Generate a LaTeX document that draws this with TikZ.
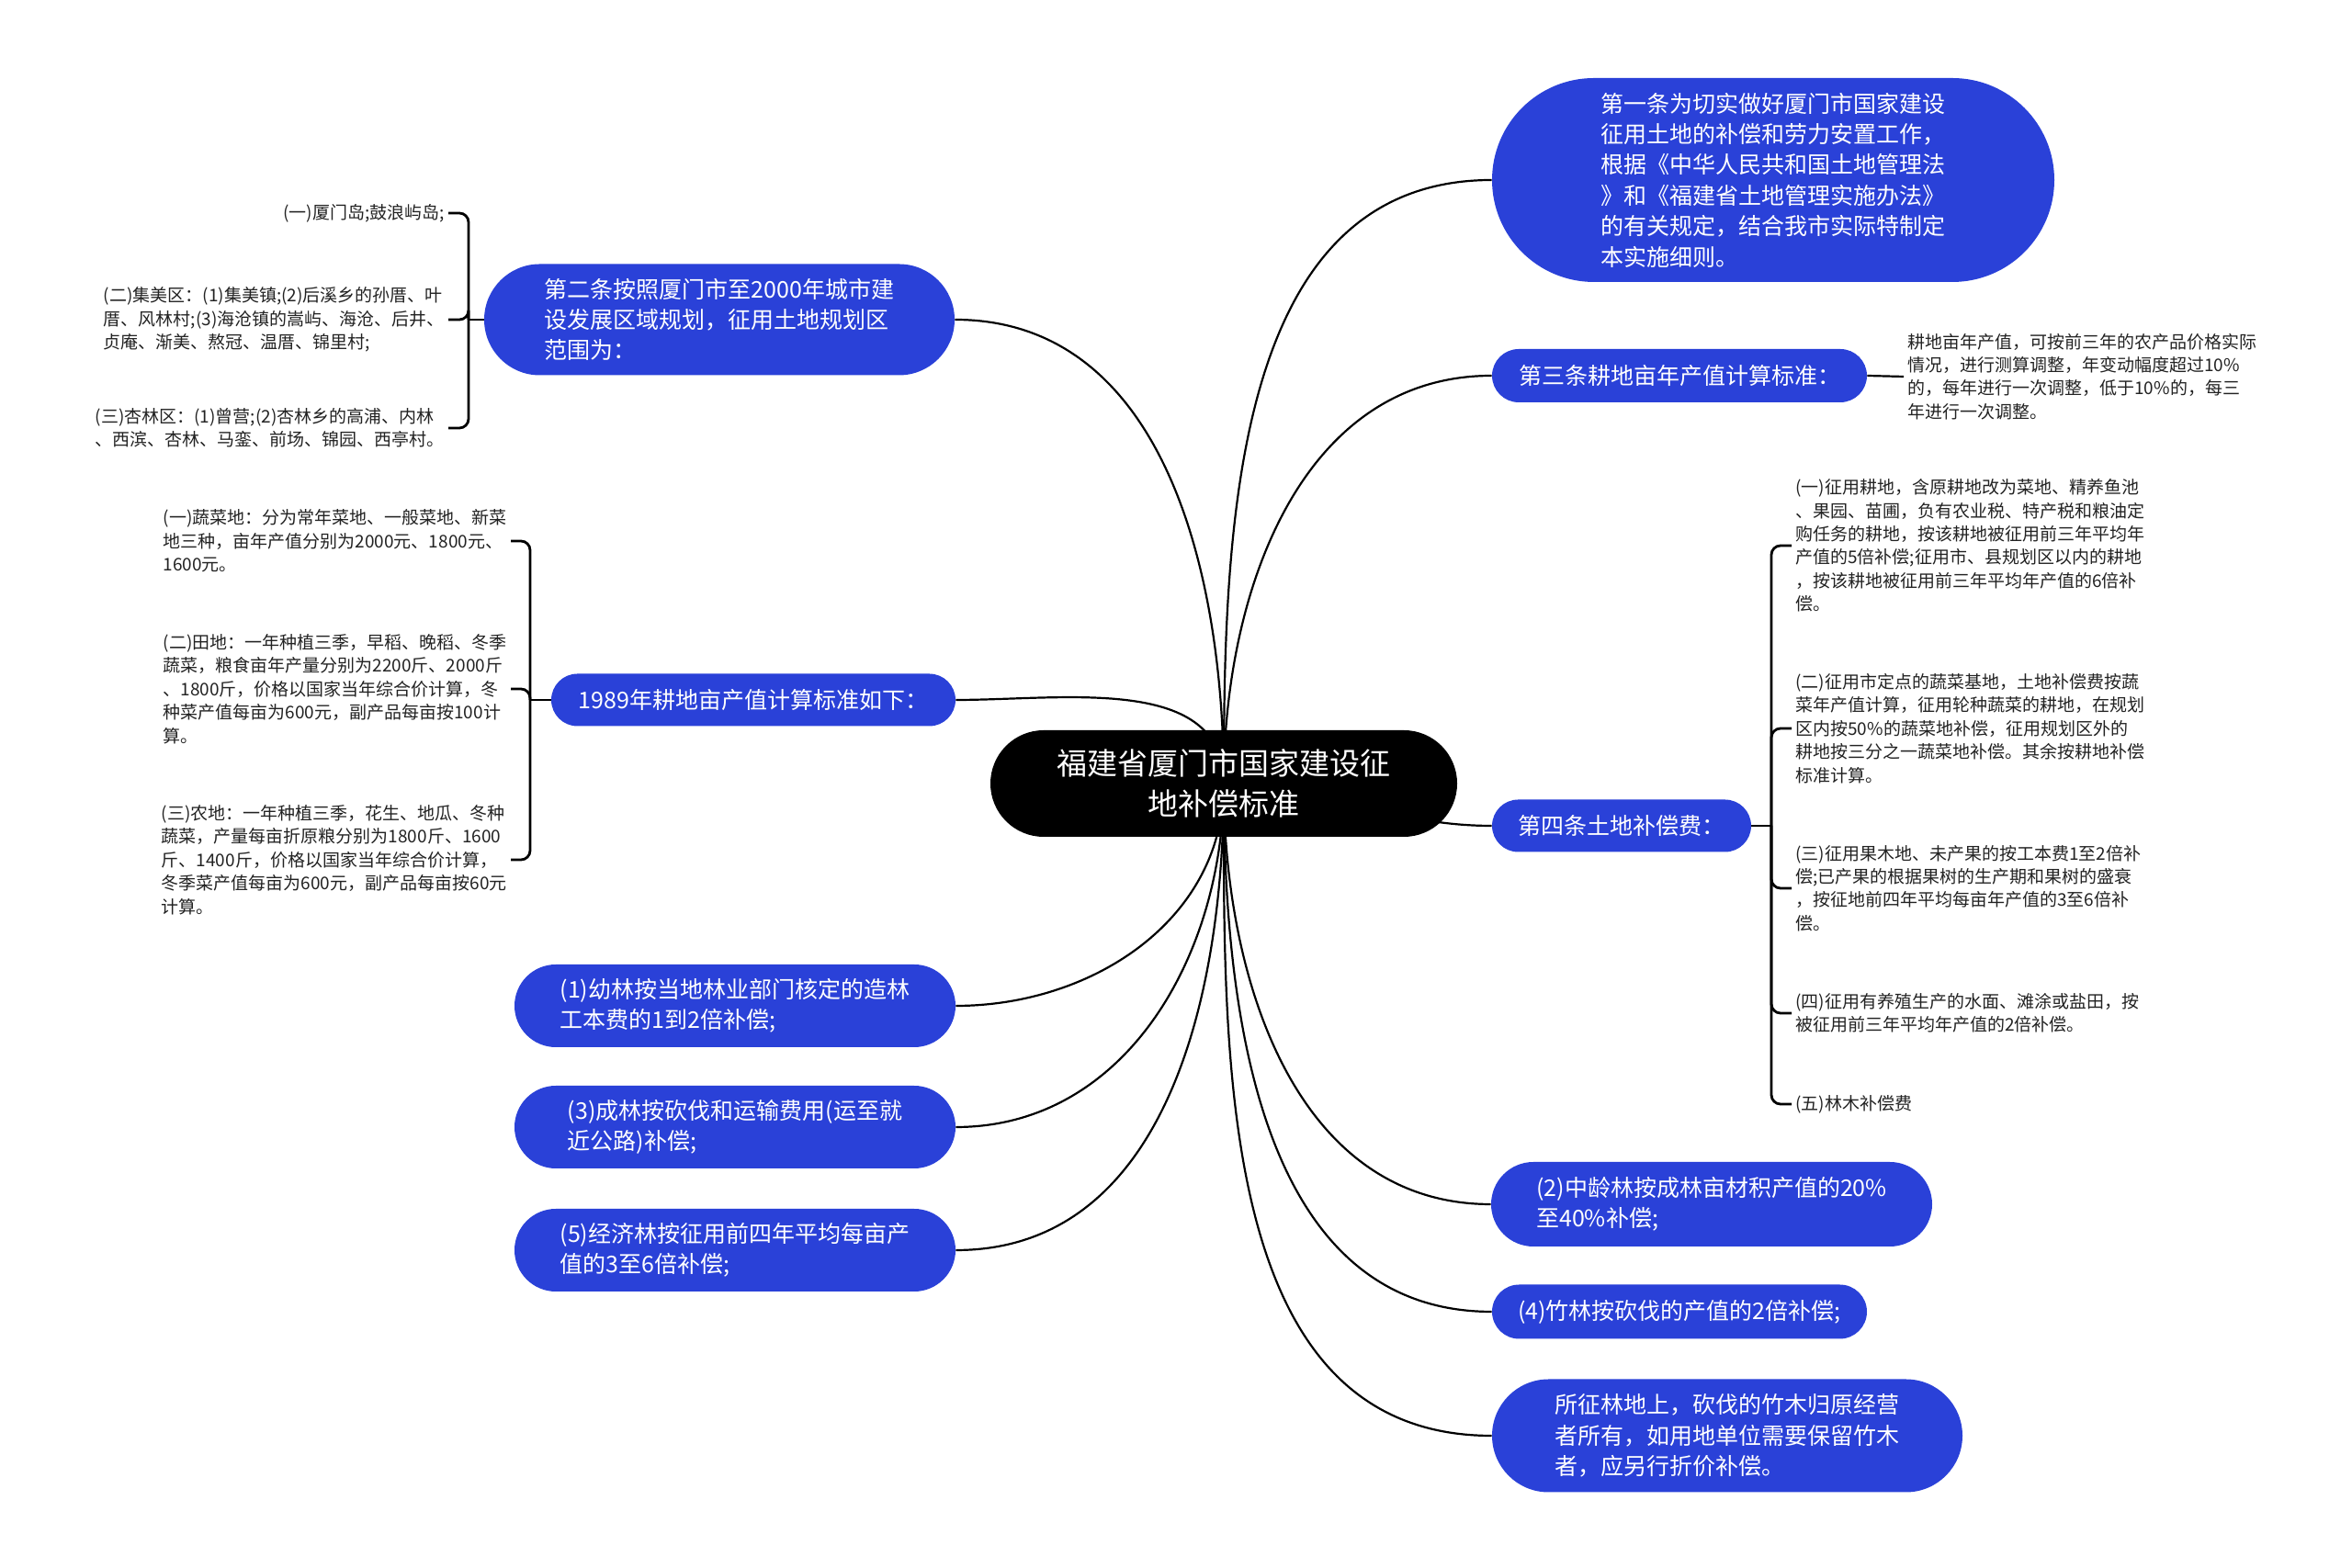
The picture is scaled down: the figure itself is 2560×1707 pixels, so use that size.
\documentclass[tikz,border=0pt]{standalone}
\usepackage{fontspec}
\setmainfont{Noto Sans CJK SC}
\usepackage{tikz}
\usetikzlibrary{positioning, shapes.misc, backgrounds, calc}
\definecolor{mapblue}{HTML}{2A41D8}
\definecolor{leafgray}{HTML}{222222}

\begin{document}
\begin{tikzpicture}[x=0.5pt, y=0.5pt,
    topic/.style={rounded rectangle, fill=mapblue, text=white, align=left, inner sep=0pt, font=\fontsize{12.5pt}{16.7pt}\selectfont},
    leaf/.style={align=left, text=leafgray, inner sep=2pt, font=\fontsize{9.5pt}{12.7pt}\selectfont},
    link/.style={line width=1.1pt},
    brace/.style={line width=1.4pt, rounded corners=5pt}]
    \useasboundingbox (0,0) rectangle (2560,1707);

    \node[rounded rectangle, fill=black, text=white, align=center, inner sep=0pt, minimum width=254pt, minimum height=58pt, font=\fontsize{16.5pt}{22pt}\selectfont] (root) at (1332,854) {福建省厦门市国家建设征\\地补偿标准};

    % right side
    \node[topic, minimum width=306pt, minimum height=111pt] (sec1) at (1930,1511) {第一条为切实做好厦门市国家建设\\征用土地的补偿和劳力安置工作，\\根据《中华人民共和国土地管理法\\》和《福建省土地管理实施办法》\\的有关规定，结合我市实际特制定\\本实施细则。};
    \node[topic, minimum width=204pt, minimum height=29pt] (sec3) at (1828,1298) {第三条耕地亩年产值计算标准：};
    \node[topic, minimum width=141pt, minimum height=28.5pt] (sec4) at (1765,808) {第四条土地补偿费：};
    \node[topic, minimum width=240pt, minimum height=46pt] (f2) at (1863,396) {(2)中龄林按成林亩材积产值的20\%\\至40\%补偿;};
    \node[topic, minimum width=204pt, minimum height=29.5pt] (f4) at (1828,279) {(4)竹林按砍伐的产值的2倍补偿;};
    \node[topic, minimum width=256pt, minimum height=61.5pt] (fbam) at (1880,144) {所征林地上，砍伐的竹木归原经营\\者所有，如用地单位需要保留竹木\\者，应另行折价补偿。};

    % left side
    \node[topic, minimum width=256pt, minimum height=60.5pt] (sec2) at (783,1359) {第二条按照厦门市至2000年城市建\\设发展区域规划，征用土地规划区\\范围为：};
    \node[topic, minimum width=220pt, minimum height=28.5pt] (std89) at (820,945) {1989年耕地亩产值计算标准如下：};
    \node[topic, minimum width=240pt, minimum height=45pt] (f1) at (800,612) {(1)幼林按当地林业部门核定的造林\\工本费的1到2倍补偿;};
    \node[topic, minimum width=240pt, minimum height=45pt] (f3) at (800,480) {(3)成林按砍伐和运输费用(运至就\\近公路)补偿;};
    \node[topic, minimum width=240pt, minimum height=45pt] (f5) at (800,346) {(5)经济林按征用前四年平均每亩产\\值的3至6倍补偿;};

    % leaves of sec3
    \node[leaf, anchor=west] (adj) at (2072,1297) {耕地亩年产值，可按前三年的农产品价格实际\\情况，进行测算调整，年变动幅度超过10\%\\的，每年进行一次调整，低于10\%的，每三\\年进行一次调整。};
    \draw[link] (sec3.east) -- (adj.west);

    % leaves of sec4
    \node[leaf, anchor=west] (c1) at (1950,1113) {(一)征用耕地，含原耕地改为菜地、精养鱼池\\、果园、苗圃，负有农业税、特产税和粮油定\\购任务的耕地，按该耕地被征用前三年平均年\\产值的5倍补偿;征用市、县规划区以内的耕地\\，按该耕地被征用前三年平均年产值的6倍补\\偿。};
    \node[leaf, anchor=west] (c2) at (1950,914) {(二)征用市定点的蔬菜基地，土地补偿费按蔬\\菜年产值计算，征用轮种蔬菜的耕地，在规划\\区内按50\%的蔬菜地补偿，征用规划区外的\\耕地按三分之一蔬菜地补偿。其余按耕地补偿\\标准计算。};
    \node[leaf, anchor=west] (c3) at (1950,740) {(三)征用果木地、未产果的按工本费1至2倍补\\偿;已产果的根据果树的生产期和果树的盛衰\\，按征地前四年平均每亩年产值的3至6倍补\\偿。};
    \node[leaf, anchor=west] (c4) at (1950,604) {(四)征用有养殖生产的水面、滩涂或盐田，按\\被征用前三年平均年产值的2倍补偿。};
    \node[leaf, anchor=west] (c5) at (1950,505) {(五)林木补偿费};
    \coordinate (j4) at (1928,808);
    \draw[link] (sec4.east) -- (j4);
    \foreach \c in {c1,c2,c3,c4,c5}
        \draw[brace] (j4) |- (\c.west);

    % leaves of sec2
    \node[leaf, anchor=east] (z1) at (488,1475) {(一)厦门岛;鼓浪屿岛;};
    \node[leaf, anchor=east] (z2) at (488,1359) {(二)集美区：(1)集美镇;(2)后溪乡的孙厝、叶\\厝、风林村;(3)海沧镇的嵩屿、海沧、后井、\\贞庵、渐美、熬冠、温厝、锦里村;};
    \node[leaf, anchor=east] (z3) at (488,1241) {(三)杏林区：(1)曾营;(2)杏林乡的高浦、内林\\、西滨、杏林、马銮、前场、锦园、西亭村。};
    \coordinate (j2) at (510,1359);
    \draw[link] (sec2.west) -- (j2);
    \foreach \z in {z1,z2,z3}
        \draw[brace] (j2) |- (\z.east);

    % leaves of std89
    \node[leaf, anchor=east] (s1) at (556,1118) {(一)蔬菜地：分为常年菜地、一般菜地、新菜\\地三种，亩年产值分别为2000元、1800元、\\1600元。};
    \node[leaf, anchor=east] (s2) at (556,957) {(二)田地：一年种植三季，早稻、晚稻、冬季\\蔬菜，粮食亩年产量分别为2200斤、2000斤\\、1800斤，价格以国家当年综合价计算，冬\\种菜产值每亩为600元，副产品每亩按100计\\算。};
    \node[leaf, anchor=east] (s3) at (556,771) {(三)农地：一年种植三季，花生、地瓜、冬种\\蔬菜，产量每亩折原粮分别为1800斤、1600\\斤、1400斤，价格以国家当年综合价计算，\\冬季菜产值每亩为600元，副产品每亩按60元\\计算。};
    \coordinate (j89) at (577,945);
    \draw[link] (std89.west) -- (j89);
    \foreach \s in {s1,s2,s3}
        \draw[brace] (j89) |- (\s.east);

    % branches from the root
    \begin{scope}[on background layer]
        \draw[link] (root.center) to[out=90, in=180] (sec1.west);
        \draw[link] (root.center) to[out=90, in=180] (sec3.west);
        \draw[link] (root.center) to[out=0, in=180] (sec4.west);
        \draw[link] (root.center) to[out=-90, in=180] (f2.west);
        \draw[link] (root.center) to[out=-90, in=180] (f4.west);
        \draw[link] (root.center) to[out=-90, in=180] (fbam.west);
        \draw[link] (root.center) to[out=90, in=0] (sec2.east);
        \draw[link] (root.center) to[out=90, in=0] (std89.east);
        \draw[link] (root.center) to[out=-90, in=0] (f1.east);
        \draw[link] (root.center) to[out=-90, in=0] (f3.east);
        \draw[link] (root.center) to[out=-90, in=0] (f5.east);
    \end{scope}
\end{tikzpicture}
\end{document}
